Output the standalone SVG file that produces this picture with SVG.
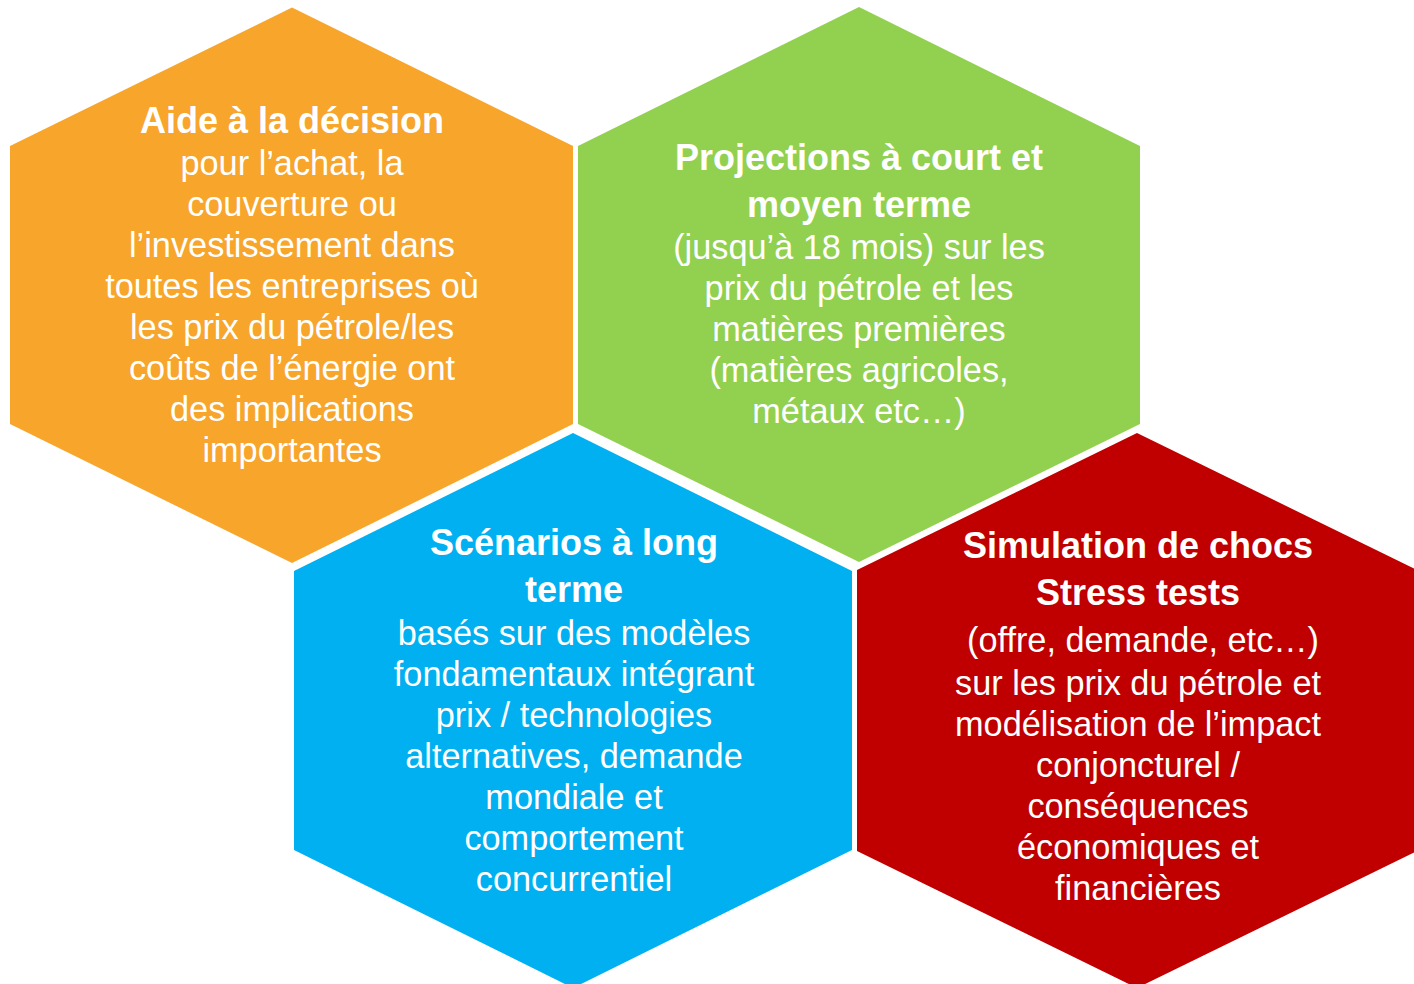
<svg xmlns="http://www.w3.org/2000/svg" width="1414" height="984" viewBox="0 0 1414 984">
<style>
.t{font-family:"Liberation Sans",Arial,sans-serif;font-weight:bold;font-size:36px;fill:#fff;text-anchor:middle}
.b{font-family:"Liberation Sans",Arial,sans-serif;font-size:34.3px;fill:#fff;text-anchor:middle}
</style>
<rect width="1414" height="984" fill="#fff"/>
<g id="aide">
<polygon points="292,7.5 573,146 573,424 292,563 10,424 10,146" fill="#F7A52B"/>
<text class="t" x="292" y="133">Aide à la décision</text>
<text class="b" x="292" y="175">pour l’achat, la</text>
<text class="b" x="292" y="216">couverture ou</text>
<text class="b" x="292" y="257">l’investissement dans</text>
<text class="b" x="292" y="298">toutes les entreprises où</text>
<text class="b" x="292" y="339">les prix du pétrole/les</text>
<text class="b" x="292" y="380">coûts de l’énergie ont</text>
<text class="b" x="292" y="421">des implications</text>
<text class="b" x="292" y="462">importantes</text>
</g>
<g id="projections">
<polygon points="859,7 1140,146 1140,424 859,562 578,424 578,146" fill="#92D050"/>
<text class="t" x="859" y="170">Projections à court et</text>
<text class="t" x="859" y="217">moyen terme</text>
<text class="b" x="859" y="259">(jusqu’à 18 mois) sur les</text>
<text class="b" x="859" y="300">prix du pétrole et les</text>
<text class="b" x="859" y="341">matières premières</text>
<text class="b" x="859" y="382">(matières agricoles,</text>
<text class="b" x="859" y="423">métaux etc…)</text>
</g>
<g id="scenarios">
<polygon points="573,433 852,571 852,850 573,988 294,850 294,571" fill="#00B0F0"/>
<text class="t" x="574" y="555">Scénarios à long</text>
<text class="t" x="574" y="602">terme</text>
<text class="b" x="574" y="645">basés sur des modèles</text>
<text class="b" x="574" y="686">fondamentaux intégrant</text>
<text class="b" x="574" y="727">prix / technologies</text>
<text class="b" x="574" y="768">alternatives, demande</text>
<text class="b" x="574" y="809">mondiale et</text>
<text class="b" x="574" y="850">comportement</text>
<text class="b" x="574" y="891">concurrentiel</text>
</g>
<g id="simulation">
<polygon points="1137,433 1417,570 1417,851 1137,988 857,851 857,570" fill="#C00000"/>
<text class="t" x="1138" y="558">Simulation de chocs</text>
<text class="t" x="1138" y="605">Stress tests</text>
<text class="b" x="1143" y="652">(offre, demande, etc…)</text>
<text class="b" x="1138" y="695">sur les prix du pétrole et</text>
<text class="b" x="1138" y="736">modélisation de l’impact</text>
<text class="b" x="1138" y="777">conjoncturel /</text>
<text class="b" x="1138" y="818">conséquences</text>
<text class="b" x="1138" y="859">économiques et</text>
<text class="b" x="1138" y="900">financières</text>
</g>
<g id="connectors"/>
</svg>
